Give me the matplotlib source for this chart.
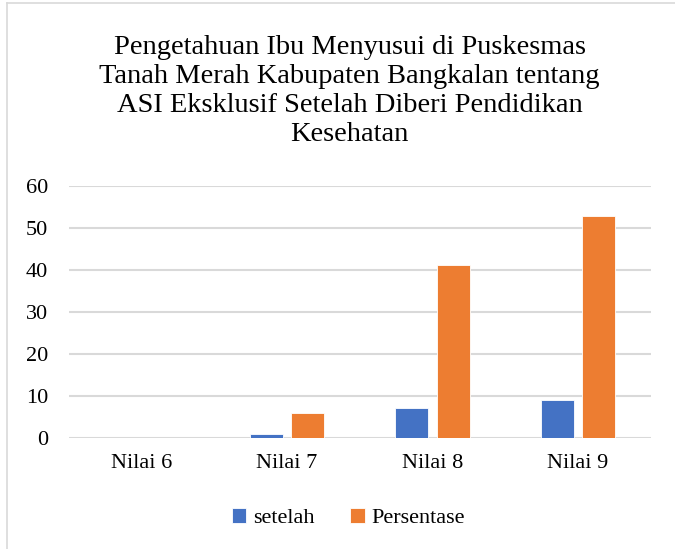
import matplotlib
matplotlib.use("Agg")
import matplotlib.pyplot as plt
import numpy as np
from matplotlib.lines import Line2D

plt.rcParams['font.family'] = ['Liberation Serif', 'DejaVu Serif']

categories = ["Nilai 6", "Nilai 7", "Nilai 8", "Nilai 9"]
setelah = [0, 1, 7, 9]
persentase = [0, 5.88, 41.18, 52.94]
series_names = ["setelah", "Persentase"]
colors = ["#4472C4", "#ED7D31"]
title = ("Pengetahuan Ibu Menyusui di Puskesmas\n"
         "Tanah Merah Kabupaten Bangkalan tentang\n"
         "ASI Eksklusif Setelah Diberi Pendidikan\n"
         "Kesehatan")

fig = plt.figure(figsize=(6.75, 5.49), dpi=100)
ax = fig.add_axes([0.102, 0.2027, 0.862, 0.458])

x = np.arange(len(categories))
width = 0.225
ax.bar(x - 0.143, setelah, width, color=colors[0], label=series_names[0],
       edgecolor="white", linewidth=0.6, zorder=3)
ax.bar(x + 0.143, persentase, width, color=colors[1], label=series_names[1],
       edgecolor="white", linewidth=0.6, zorder=3)

ax.set_xlim(-0.5, len(categories) - 0.5)
ax.set_ylim(0, 60)
ax.set_yticks(range(0, 61, 10))
ax.set_xticks(x)
ax.set_xticklabels(categories)
ax.tick_params(axis="both", length=0, labelsize=16, colors="#000000")
ax.tick_params(axis="x", pad=12)
ax.tick_params(axis="y", pad=15)
ax.grid(axis="y", color="#D9D9D9", linewidth=1.5, zorder=0)
for s in ax.spines.values():
    s.set_visible(False)

fig.text(0.518, 0.937, title, ha="center", va="top", fontsize=20.5,
         linespacing=1.22)

ax.legend(loc="center", bbox_to_anchor=(0.516, 1 - 518 / 549), bbox_transform=fig.transFigure,
          ncol=2, frameon=False, fontsize=16, handlelength=0.65, handleheight=0.65,
          handletextpad=0.3, columnspacing=1.6)

# chart area border (only top and left visible)
fig.add_artist(Line2D([7 / 675, 7 / 675], [0, 1 - 3 / 549], color="#D9D9D9", linewidth=1.2))
fig.add_artist(Line2D([7 / 675, 1], [1 - 3 / 549, 1 - 3 / 549], color="#D9D9D9", linewidth=1.2))

fig.savefig("out.png", dpi=100)
